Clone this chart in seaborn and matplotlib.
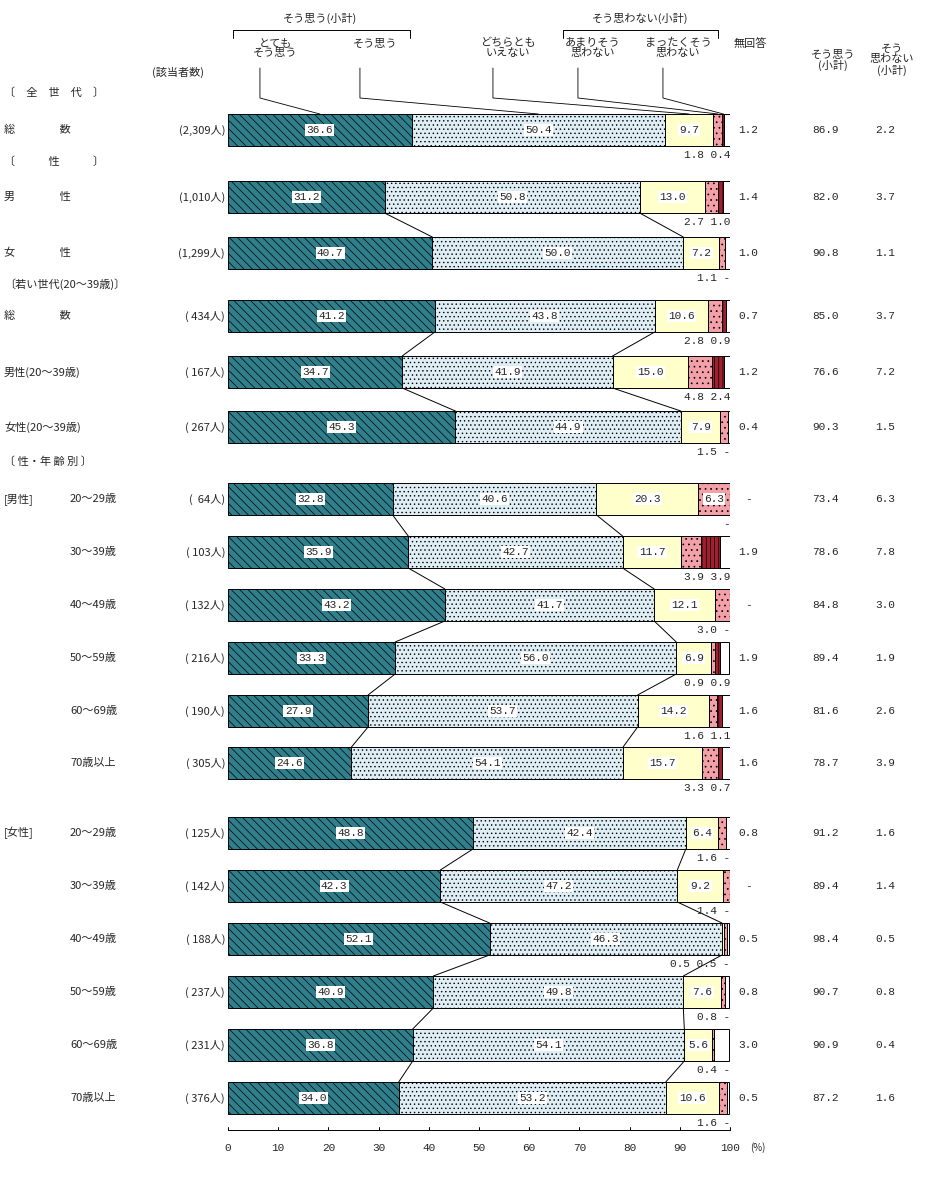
import matplotlib
matplotlib.use("Agg")
import matplotlib.pyplot as plt
import seaborn as sns

sns.set_style("white")
plt.rcParams["font.family"] = "Noto Sans CJK JP"
plt.rcParams["hatch.linewidth"] = 0.5

labels = ["総　　　　数", "男　　　　性", "女　　　　性", "総　　　　数", "男性(20～39歳)", "女性(20～39歳)",
          "20～29歳", "30～39歳", "40～49歳", "50～59歳", "60～69歳", "70歳以上",
          "20～29歳", "30～39歳", "40～49歳", "50～59歳", "60～69歳", "70歳以上"]
counts = ["(2,309人)", "(1,010人)", "(1,299人)", "( 434人)", "( 167人)", "( 267人)",
          "(  64人)", "( 103人)", "( 132人)", "( 216人)", "( 190人)", "( 305人)",
          "( 125人)", "( 142人)", "( 188人)", "( 237人)", "( 231人)", "( 376人)"]
very = [36.6, 31.2, 40.7, 41.2, 34.7, 45.3, 32.8, 35.9, 43.2, 33.3, 27.9, 24.6, 48.8, 42.3, 52.1, 40.9, 36.8, 34.0]
agree = [50.4, 50.8, 50.0, 43.8, 41.9, 44.9, 40.6, 42.7, 41.7, 56.0, 53.7, 54.1, 42.4, 47.2, 46.3, 49.8, 54.1, 53.2]
neither = [9.7, 13.0, 7.2, 10.6, 15.0, 7.9, 20.3, 11.7, 12.1, 6.9, 14.2, 15.7, 6.4, 9.2, 0.5, 7.6, 5.6, 10.6]
notmuch = [1.8, 2.7, 1.1, 2.8, 4.8, 1.5, 6.3, 3.9, 3.0, 0.9, 1.6, 3.3, 1.6, 1.4, 0.5, 0.8, 0.4, 1.6]
notatall = [0.4, 1.0, 0.0, 0.9, 2.4, 0.0, 0.0, 3.9, 0.0, 0.9, 1.1, 0.7, 0.0, 0.0, 0.0, 0.0, 0.0, 0.0]
noans = [1.2, 1.4, 1.0, 0.7, 1.2, 0.4, 0.0, 1.9, 0.0, 1.9, 1.6, 1.6, 0.8, 0.0, 0.5, 0.8, 3.0, 0.5]
agree_sub = [86.9, 82.0, 90.8, 85.0, 76.6, 90.3, 73.4, 78.6, 84.8, 89.4, 81.6, 78.7, 91.2, 89.4, 98.4, 90.7, 90.9, 87.2]
disagree_sub = [2.2, 3.7, 1.1, 3.7, 7.2, 1.5, 6.3, 7.8, 3.0, 1.9, 2.6, 3.9, 1.6, 1.4, 0.5, 0.8, 0.4, 1.6]
ticks = [0, 10, 20, 30, 40, 50, 60, 70, 80, 90, 100]

ypos = [130, 197, 253, 316, 372, 427, 499, 552, 605, 658, 711, 763, 833, 886, 939, 992, 1045, 1098]
groups = [[0], [1, 2], [3, 4, 5], [6, 7, 8, 9, 10, 11], [12, 13, 14, 15, 16, 17]]
H = 32

fig = plt.figure(figsize=(9.3, 11.77), dpi=100)
ax = fig.add_axes([228 / 930, 0, 502 / 930, 1])
ax.set_xlim(0, 100)
ax.set_ylim(1177, 0)
ax.axis("off")

def px(p):
    return (p - 228) / 5.02

segs = [very, agree, neither, notmuch, notatall, noans]
colors = ["#2f7f8c", "#dfeef5", "#ffffcc", "#f4a0a8", "#a02030", "#ffffff"]
hatches = ["\\\\\\\\", "....", "", "...", "||||", ""]
left = [0.0] * len(ypos)
for s, vals in enumerate(segs):
    ax.barh(ypos, vals, left=left, height=H, color=colors[s], hatch=hatches[s],
            edgecolor="black", linewidth=0.7)
    left = [l + v for l, v in zip(left, vals)]

# connecting lines
for g in groups:
    for a, b in zip(g[:-1], g[1:]):
        for k in (1, 2):
            xa = sum(segs[s][a] for s in range(k))
            xb = sum(segs[s][b] for s in range(k))
            ax.plot([xa, xb], [ypos[a] + H / 2, ypos[b] - H / 2], color="black", lw=0.7)

fs = 8
mono = "Liberation Mono"
for i, y in enumerate(ypos):
    x0 = 0
    for s in range(3):
        v = segs[s][i]
        if v >= 4:
            ax.text(x0 + v / 2, y, f"{v:.1f}", ha="center", va="center", fontsize=fs,
                    family=mono, bbox=dict(facecolor="white", edgecolor="none", pad=1))
        x0 += v
    small = []
    if neither[i] < 4:
        small.append(f"{neither[i]:.1f}")
    small.append(f"{notmuch[i]:.1f}" if notmuch[i] > 0 else "-")
    small.append(f"{notatall[i]:.1f}" if notatall[i] > 0 else "-")
    if notmuch[i] >= 5.5:
        ax.text(x0 + notmuch[i] / 2, y, f"{notmuch[i]:.1f}", ha="center", va="center", fontsize=fs,
                family=mono, bbox=dict(facecolor="white", edgecolor="none", pad=1))
        small = small[1:]
    ax.text(100, y + H / 2 + 9, " ".join(small), ha="right", va="center", fontsize=fs,
            family=mono, clip_on=False)
    ax.text(px(748), y, f"{noans[i]:.1f}" if noans[i] > 0 else "-", ha="center", va="center",
            fontsize=fs, family=mono, clip_on=False)
    ax.text(px(825), y, f"{agree_sub[i]:.1f}", ha="center", va="center", fontsize=fs,
            family=mono, clip_on=False)
    ax.text(px(885), y, f"{disagree_sub[i]:.1f}", ha="center", va="center", fontsize=fs,
            family=mono, clip_on=False)
    lx = px(4) if i < 6 else px(70)
    ax.text(lx, y, labels[i], ha="left", va="center", fontsize=fs, clip_on=False)
    ax.text(px(225), y, counts[i], ha="right", va="center", fontsize=fs, clip_on=False)

for t, y in [("〔　全　世　代　〕", 93), ("〔　　　性　　　〕", 162), ("〔若い世代(20～39歳)〕", 284),
             ("〔 性・年 齢 別 〕", 462), ("[男性]", 499), ("[女性]", 833)]:
    ax.text(px(4), y, t, ha="left", va="center", fontsize=fs, clip_on=False)
ax.text(px(178), 72, "(該当者数)", ha="center", va="center", fontsize=fs, clip_on=False)

# x axis
ax.plot([0, 100], [1130, 1130], color="black", lw=0.7, clip_on=False)
for t in ticks:
    ax.plot([t, t], [1127, 1130], color="black", lw=0.7, clip_on=False)
    ax.text(t, 1148, str(t), ha="center", va="center", fontsize=fs, family=mono, clip_on=False)
ax.text(105.5, 1148, "(%)", ha="center", va="center", fontsize=7, clip_on=False)

# header
hdr = [(275, 48, "とても\nそう思う"), (375, 44, "そう思う"), (508, 48, "どちらとも\nいえない"),
       (593, 48, "あまりそう\n思わない"), (678, 48, "まったくそう\n思わない"), (750, 44, "無回答"),
       (833, 60, "そう思う\n(小計)"), (892, 60, "そう\n思わない\n(小計)")]
for x, y, t in hdr:
    ax.text(px(x), y, t, ha="center", va="center", fontsize=fs, linespacing=1.0, clip_on=False)
ax.text(px(320), 18, "そう思う(小計)", ha="center", va="center", fontsize=fs, clip_on=False)
ax.text(px(640), 18, "そう思わない(小計)", ha="center", va="center", fontsize=fs, clip_on=False)
for a, b in [(233, 410), (563, 718)]:
    ax.plot([px(a), px(a), px(b), px(b)], [38, 30, 30, 38], color="black", lw=0.7, clip_on=False)
# leader lines from header to first bar
x_ends = [very[0] / 2, very[0] + agree[0] / 2, very[0] + agree[0] + neither[0] / 2,
          very[0] + agree[0] + neither[0] + notmuch[0] / 2,
          very[0] + agree[0] + neither[0] + notmuch[0] + notatall[0] / 2]
for (x, _, _), xe in zip(hdr[:5], x_ends):
    ax.plot([px(x) - 3, px(x) - 3, xe], [68, 98, 114], color="black", lw=0.6, clip_on=False)

fig.savefig("out.png", dpi=100)
